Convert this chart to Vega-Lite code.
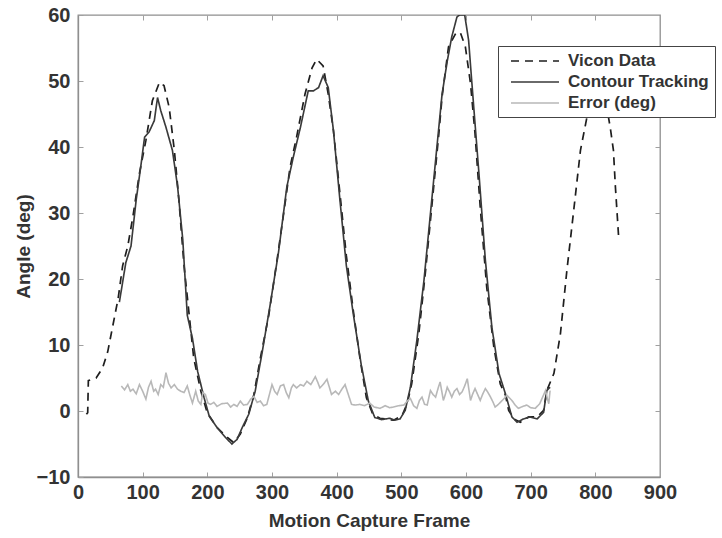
{
  "$schema": "https://vega.github.io/schema/vega-lite/v6.json",
  "width": 582,
  "height": 462,
  "autosize": {"type": "none"},
  "padding": {"left": 78, "top": 15, "right": 62, "bottom": 61},
  "background": "white",
  "config": {
    "view": {"stroke": "#8f8f8f", "strokeWidth": 1.3},
    "font": "Liberation Sans",
    "axis": {
      "grid": false,
      "labelFont": "Liberation Sans",
      "labelFontWeight": "bold",
      "labelFontSize": 20,
      "labelColor": "#333333",
      "labelFlush": false,
      "titleFont": "Liberation Sans",
      "titleFontWeight": "bold",
      "titleFontSize": 19,
      "titleColor": "#333333",
      "domainColor": "#8f8f8f",
      "domainWidth": 1.3,
      "tickColor": "#a0a0a0",
      "tickSize": -5
    }
  },
  "datasets": {
    "vicon": [
      [13,-0.5],[15,-0.25],[16,4.6],[28,5.0],[38,6.5],[46,9],[56,14],[62,17],[69,22],[77,25],[85,29.5],[95,36],[105,41],[115,47],[126,49.8],[133,49.3],[141,46],[149,39.5],[156,32],[164,22],[172,14.5],[179,8],[190,3],[200,-0.3],[215,-2.5],[231,-4],[241,-4.8],[251,-3.5],[262,-1],[272,2.5],[282,8],[295,14.5],[308,23],[321,32],[328,37],[338,41.5],[351,48],[362,52],[369,53.3],[379,52.3],[387,48],[395,42.5],[405,33],[415,23.5],[426,15],[436,8],[446,2],[456,-0.5],[467,-1.1],[488,-1.4],[501,-0.7],[509,1.1],[516,4.1],[527,11.7],[537,20.8],[547,30.9],[558,42],[563,47.6],[573,55.2],[584,57.2],[591,57.4],[599,55.2],[607,49.6],[614,42],[622,30.9],[632,18.8],[643,9.7],[653,4.1],[661,2.4],[666,0.1],[674,-1.2],[684,-1.7],[697,-0.9],[710,-0.9],[720,0.1],[725,3.1],[736,5.7],[746,11.7],[756,21.3],[766,29.9],[777,39.5],[785,43.5],[795,48.5],[805,50],[815,47.5],[823,43],[828,39.5],[831,34],[836,26.4]
    ],
    "contour": [
      [64,16.5],[74,22.5],[82,25],[90,32],[97,37],[103,41.5],[110,42.3],[118,44],[123,47.5],[128,45.5],[136,43],[146,39.5],[154,34],[162,26],[169,14.5],[177,11],[185,6],[195,2],[203,-0.8],[215,-2.5],[228,-4],[238,-5],[246,-4.3],[254,-2.5],[264,-0.5],[274,3],[285,9],[297,16],[310,24],[323,34],[333,38.5],[344,43],[356,48.5],[364,48.5],[372,49],[379,50.8],[387,49],[395,42.5],[405,32],[415,22],[426,14.5],[438,7],[449,1.5],[459,-1],[470,-1.3],[482,-1.1],[490,-1.4],[498,-1.2],[506,0.1],[514,3.6],[524,10.7],[535,19.8],[545,29.9],[555,40],[563,48],[571,53],[578,56.7],[586,59.7],[590,60],[598,60],[604,56.2],[612,46],[620,36],[630,22.8],[640,12.7],[651,5.7],[661,2.6],[671,-0.9],[679,-1.7],[689,-1.2],[699,-0.9],[710,-1.2],[720,-0.2],[725,3.1],[730,3.6]
    ],
    "error": [
      [67,3.8],[72,3.2],[77,4],[81,3.0],[85,3.3],[90,2.6],[95,4],[100,3.0],[105,1.8],[109,3.6],[113,4.5],[117,3.0],[120,3.3],[124,2.5],[128,4],[132,3.6],[136,5.8],[140,4.2],[144,3.5],[149,4.0],[154,3.3],[159,3.0],[164,2.8],[169,3.8],[173,2.4],[177,1.2],[182,3.0],[186,1.5],[190,1.0],[193,2.8],[197,2.5],[201,1.2],[205,1.0],[210,1.3],[215,0.7],[222,1.1],[231,1.2],[236,0.6],[241,1.0],[246,0.7],[251,1.5],[256,0.9],[262,1.0],[267,1.8],[272,2.2],[277,1.3],[282,1.5],[287,0.8],[292,1.0],[296,2.5],[300,4],[304,3.0],[308,2.5],[313,3.8],[318,4],[322,2.8],[326,2.0],[330,3.5],[333,4],[338,3.5],[344,4],[349,3.8],[354,4.5],[360,4.0],[367,5.2],[371,4.3],[374,3.5],[379,4.0],[385,4.8],[389,3.5],[392,2.5],[398,3.0],[403,2.5],[408,3.3],[413,4],[418,2.5],[423,1.0],[429,0.9],[436,1.0],[443,0.8],[451,1.2],[458,0.6],[467,0.4],[475,0.8],[482,0.5],[488,0.6],[496,0.8],[504,0.9],[509,1.5],[514,1.9],[519,0.8],[524,0.4],[528,1.6],[532,2.1],[536,1.0],[540,0.9],[545,3.1],[549,2.5],[553,2.1],[557,3.5],[560,4.4],[565,1.6],[568,2.5],[571,3.6],[575,2.8],[578,2.1],[582,3.0],[586,3.4],[590,2.5],[594,2.9],[598,3.8],[602,4.9],[607,1.6],[610,2.5],[614,3.4],[618,2.5],[622,1.6],[626,2.6],[630,3.4],[634,2.8],[638,2.1],[642,1.3],[645,0.6],[650,1.0],[656,1.6],[660,2.0],[663,2.4],[667,2.0],[671,1.6],[676,0.9],[681,0.4],[688,0.7],[694,0.9],[700,0.5],[707,0.4],[711,0.8],[714,1.1],[718,2.0],[723,3.1],[726,1.8],[728,1.1],[730,3.1]
    ]
  },
  "resolve": {"axis": {"x": "independent", "y": "independent"}},
  "layer": [
    {
      "data": {"name": "vicon"},
      "transform": [
        {"calculate": "datum[0]", "as": "f"},
        {"calculate": "datum[1]", "as": "a"}
      ],
      "mark": {"type": "line", "opacity": 0},
      "encoding": {
        "x": {"field": "f", "type": "quantitative", "scale": {"domain": [0, 900], "nice": false},
              "axis": {"orient": "top", "labels": false, "domain": false, "title": null, "values": [100,200,300,400,500,600,700,800]}},
        "y": {"field": "a", "type": "quantitative", "scale": {"domain": [-10, 60], "nice": false},
              "axis": {"orient": "right", "labels": false, "domain": false, "title": null, "values": [0,10,20,30,40,50]}}
      }
    },
    {
      "layer": [
        {"data": {"name": "vicon"}, "transform": [{"calculate": "datum[0]", "as": "f"}, {"calculate": "datum[1]", "as": "a"}, {"calculate": "'Vicon Data'", "as": "s"}], "mark": {"type": "line", "clip": true}, "encoding": {}},
        {"data": {"name": "contour"}, "transform": [{"calculate": "datum[0]", "as": "f"}, {"calculate": "datum[1]", "as": "a"}, {"calculate": "'Contour Tracking'", "as": "s"}], "mark": {"type": "line", "clip": true}, "encoding": {}},
        {"data": {"name": "error"}, "transform": [{"calculate": "datum[0]", "as": "f"}, {"calculate": "datum[1]", "as": "a"}, {"calculate": "'Error (deg)'", "as": "s"}], "mark": {"type": "line", "clip": true}, "encoding": {}}
      ],
      "encoding": {
        "x": {"field": "f", "type": "quantitative", "scale": {"domain": [0, 900], "nice": false},
              "axis": {"orient": "bottom", "title": "Motion Capture Frame", "values": [0,100,200,300,400,500,600,700,800,900], "labelPadding": 10, "titlePadding": 9}},
        "y": {"field": "a", "type": "quantitative", "scale": {"domain": [-10, 60], "nice": false},
              "axis": {"orient": "left", "title": "Angle (deg)", "values": [-10,0,10,20,30,40,50,60], "labelPadding": 13, "titlePadding": 3}},
        "color": {"field": "s", "type": "nominal",
                  "scale": {"domain": ["Vicon Data", "Contour Tracking", "Error (deg)"], "range": ["#1e1e1e", "#3a3a3a", "#b8b8b8"]},
                  "legend": {"title": null, "orient": "none", "legendX": 420, "legendY": 31, "symbolType": "M-3,0H3", "symbolSize": 256, "symbolOffset": 22,
                             "strokeColor": "#444444", "fillColor": "white", "padding": 6, "labelFont": "Liberation Sans", "labelFontWeight": "bold",
                             "labelFontSize": 17, "labelColor": "#333333", "labelOffset": 24, "rowPadding": 4, "labelLimit": 300}},
        "strokeDash": {"field": "s", "type": "nominal", "scale": {"domain": ["Vicon Data", "Contour Tracking", "Error (deg)"], "range": [[8, 6], [1, 0], [1, 0]]}},
        "strokeWidth": {"field": "s", "type": "nominal", "scale": {"domain": ["Vicon Data", "Contour Tracking", "Error (deg)"], "range": [1.7, 1.6, 2.6]}}
      }
    }
  ]
}
